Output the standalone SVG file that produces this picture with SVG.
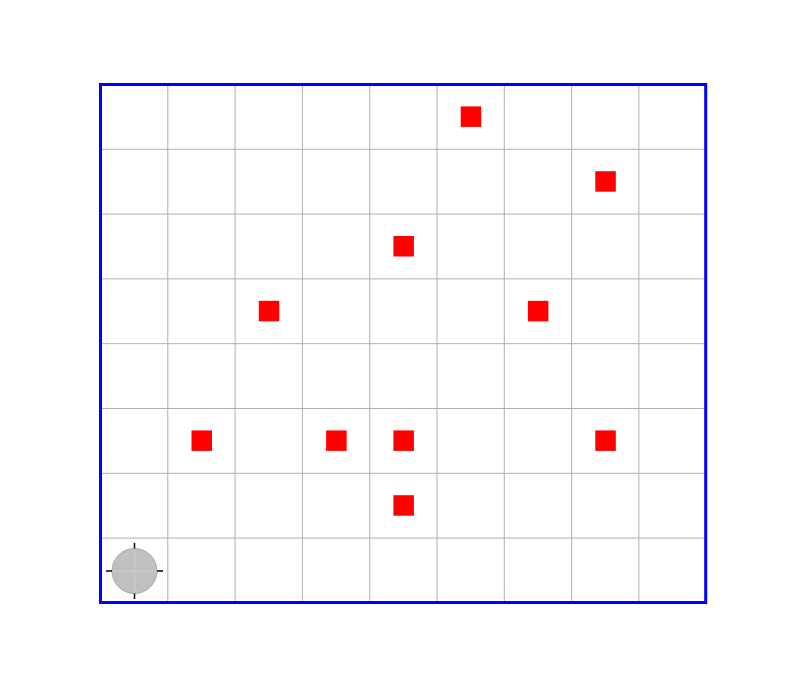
<svg xmlns="http://www.w3.org/2000/svg" width="787" height="680" viewBox="0 0 787 680">
<style>
.grid{stroke:#b0b0b0;stroke-width:1;fill:none}
.obs{fill:#ff0000}
.tick{stroke:#000;stroke-width:1.5}
</style>
<rect width="787" height="680" fill="#ffffff"/>
<g id="grid" class="grid">
<line x1="167.8" y1="84.5" x2="167.8" y2="602.9"/>
<line x1="235.1" y1="84.5" x2="235.1" y2="602.9"/>
<line x1="302.4" y1="84.5" x2="302.4" y2="602.9"/>
<line x1="369.7" y1="84.5" x2="369.7" y2="602.9"/>
<line x1="437" y1="84.5" x2="437" y2="602.9"/>
<line x1="504.3" y1="84.5" x2="504.3" y2="602.9"/>
<line x1="571.6" y1="84.5" x2="571.6" y2="602.9"/>
<line x1="638.9" y1="84.5" x2="638.9" y2="602.9"/>
<line x1="100.5" y1="149.3" x2="706.2" y2="149.3"/>
<line x1="100.5" y1="214.1" x2="706.2" y2="214.1"/>
<line x1="100.5" y1="278.9" x2="706.2" y2="278.9"/>
<line x1="100.5" y1="343.7" x2="706.2" y2="343.7"/>
<line x1="100.5" y1="408.5" x2="706.2" y2="408.5"/>
<line x1="100.5" y1="473.3" x2="706.2" y2="473.3"/>
<line x1="100.5" y1="538.1" x2="706.2" y2="538.1"/>
</g>
<g id="obstacles" class="obs">
<rect x="460.7" y="106.4" width="20.5" height="20.5"/>
<rect x="595.3" y="171.2" width="20.5" height="20.5"/>
<rect x="393.4" y="236" width="20.5" height="20.5"/>
<rect x="258.8" y="300.8" width="20.5" height="20.5"/>
<rect x="527.9" y="300.8" width="20.5" height="20.5"/>
<rect x="191.5" y="430.4" width="20.5" height="20.5"/>
<rect x="326.1" y="430.4" width="20.5" height="20.5"/>
<rect x="393.4" y="430.4" width="20.5" height="20.5"/>
<rect x="595.3" y="430.4" width="20.5" height="20.5"/>
<rect x="393.4" y="495.2" width="20.5" height="20.5"/>
</g>
<g id="robot">
<circle cx="134.5" cy="571" r="22.5" fill="#c0c0c0" stroke="#a8a8a8" stroke-width="1"/>
<line x1="134.5" y1="548.5" x2="134.5" y2="593.5" stroke="#cacaca" stroke-width="1"/>
<line x1="112" y1="571" x2="157" y2="571" stroke="#cacaca" stroke-width="1"/>
<line class="tick" x1="134.5" y1="543" x2="134.5" y2="548.5"/>
<line class="tick" x1="134.5" y1="593.5" x2="134.5" y2="599"/>
<line class="tick" x1="106" y1="571" x2="112" y2="571"/>
<line class="tick" x1="157" y1="571" x2="163" y2="571"/>
</g>
<rect id="border" x="100.5" y="84.5" width="605.2" height="518" fill="none" stroke="#0000ff" stroke-width="3"/>
</svg>
